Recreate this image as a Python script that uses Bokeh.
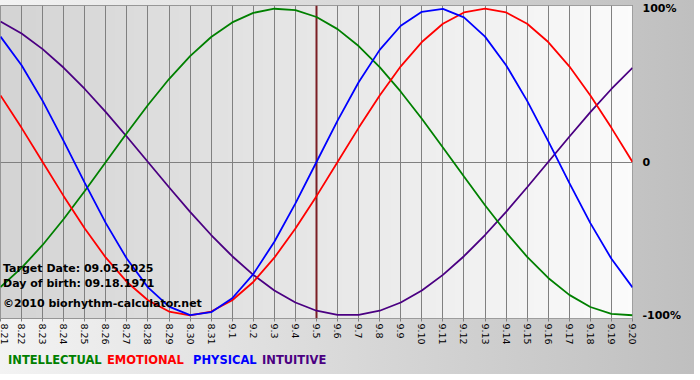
import math
import numpy as np
from bokeh.plotting import figure
from bokeh.layouts import column
from bokeh.models import Range1d, FixedTicker, Label, Span, LinearAxis, Div
from bokeh.embed import file_html
from bokeh.resources import INLINE

# ---- data ----
dates = ["8.21", "8.22", "8.23", "8.24", "8.25", "8.26", "8.27", "8.28", "8.29", "8.30", "8.31",
         "9.1", "9.2", "9.3", "9.4", "9.5", "9.6", "9.7", "9.8", "9.9", "9.10",
         "9.11", "9.12", "9.13", "9.14", "9.15", "9.16", "9.17", "9.18", "9.19", "9.20"]

physical = [81.70, 63.11, 39.84, 13.62, -13.62, -39.84, -63.11, -81.70, -94.23, -99.77, -97.91,
            -88.79, -73.08, -51.96, -26.98, 0.0, 26.98, 51.96, 73.08, 88.79, 97.91,
            99.77, 94.23, 81.70, 63.11, 39.84, 13.62, -13.62, -39.84, -63.11, -81.70]

emotional = [43.39, 22.25, 0.0, -22.25, -43.39, -62.35, -78.18, -90.10, -97.49, -100.0, -97.49,
             -90.10, -78.18, -62.35, -43.39, -22.25, 0.0, 22.25, 43.39, 62.35, 78.18,
             90.10, 97.49, 100.0, 97.49, 90.10, 78.18, 62.35, 43.39, 22.25, 0.0]

intellectual = [-81.46, -69.01, -54.06, -37.17, -18.93, 0.0, 18.93, 37.17, 54.06, 69.01, 81.46,
                90.96, 97.18, 99.89, 98.98, 94.50, 86.60, 75.57, 61.82, 45.82, 28.17,
                9.51, -9.51, -28.17, -45.82, -61.82, -75.57, -86.60, -94.50, -98.98, -99.89]

intuitive = [91.58, 83.72, 73.57, 61.42, 47.59, 32.47, 16.46, 0.0, -16.46, -32.47, -47.59,
             -61.42, -73.57, -83.72, -91.58, -96.94, -99.66, -99.66, -96.94, -91.58, -83.72,
             -73.57, -61.42, -47.59, -32.47, -16.46, 0.0, 16.46, 32.47, 47.59, 61.42]

target_date = "9.5"
right_values = [100, 0, -100]
right_labels = ["100%", "0", "-100%"]
legend_names = ["INTELLECTUAL", "EMOTIONAL", "PHYSICAL", "INTUITIVE"]
info_lines = ["Target Date: 09.05.2025", "Day of birth: 09.18.1971", "\u00a92010 biorhythm-calculator.net"]

# ---- styling ----
C_INT = "#008000"
C_EMO = "#ff0000"
C_PHY = "#0000ff"
C_ITU = "#4b0082"
FONT = "DejaVu Sans"

xs = list(range(len(dates)))
n = len(dates) - 1

p = figure(width=684, height=347, output_backend="svg", toolbar_location=None,
           x_range=Range1d(0, n), y_range=Range1d(-102, 102),
           y_axis_location=None,
           min_border_left=0, min_border_top=5, min_border_right=0, min_border_bottom=26)
p.border_fill_color = None
p.background_fill_color = None
p.outline_line_color = "#808080"

# frame gradient (light gray on the left to almost white on the right)
N = 128
img = np.empty((1, N), dtype=np.uint32)
view = img.view(dtype=np.uint8).reshape((1, N, 4))
g = np.linspace(0xd4, 0xfb, N).astype(np.uint8)
view[0, :, 0] = g
view[0, :, 1] = g
view[0, :, 2] = g
view[0, :, 3] = 255
bg = p.image_rgba(image=[img], x=0, y=-102, dw=n, dh=204)
bg.level = "image"

# grid
p.xgrid.ticker = FixedTicker(ticks=xs)
p.xgrid.grid_line_color = "#808080"
p.xgrid.grid_line_width = 1
p.ygrid.ticker = FixedTicker(ticks=[0])
p.ygrid.grid_line_color = "#808080"

# bottom axis
ax = p.xaxis[0]
ax.ticker = FixedTicker(ticks=xs)
ax.major_label_overrides = {i: d for i, d in enumerate(dates)}
ax.major_label_orientation = -math.pi / 2
ax.major_label_text_font = FONT
ax.major_label_text_font_size = "9.5px"
ax.major_label_text_color = "#000000"
ax.major_label_standoff = 2
ax.axis_line_color = None
ax.major_tick_line_color = "#808080"
ax.major_tick_out = 3
ax.major_tick_in = 0
ax.minor_tick_line_color = None

# right axis with percent labels
rax = LinearAxis(ticker=FixedTicker(ticks=right_values),
                 major_label_overrides={v: t for v, t in zip(right_values, right_labels)})
rax.axis_line_color = None
rax.major_tick_line_color = None
rax.minor_tick_line_color = None
rax.major_label_standoff = 4
rax.major_label_text_font = FONT
rax.major_label_text_font_style = "bold"
rax.major_label_text_font_size = "11px"
rax.major_label_text_color = "#000000"
p.add_layout(rax, "right")

# target date line
p.add_layout(Span(location=dates.index(target_date), dimension="height",
                  line_color="#7b1f24", line_width=2, level="underlay"))

# curves
for series, col in [(intuitive, C_ITU), (intellectual, C_INT), (emotional, C_EMO), (physical, C_PHY)]:
    p.line(xs, series, line_color=col, line_width=1.8)

# info texts
for txt, yv in zip(info_lines, [-69.4, -79.4, -91.9]):
    p.add_layout(Label(x=0.12, y=yv, text=txt, text_font=FONT, text_font_style="bold",
                       text_font_size="11px", text_color="#000000", text_baseline="middle"))

# legend row
cols = [C_INT, C_EMO, C_PHY, C_ITU]
lefts = [3, 102, 188, 257]
spans = "".join(f'<span style="position:absolute; left:{l}px; top:0px; color:{c}">{t}</span>'
                for t, c, l in zip(legend_names, cols, lefts))
legend = Div(text=spans, width=684, height=17,
             styles={"font-family": FONT, "font-weight": "bold", "font-size": "11.5px",
                     "position": "relative", "line-height": "16px", "white-space": "nowrap"})

layout = column(p, legend, spacing=0,
                styles={"background": "linear-gradient(90deg, #f3f3f3 0%, #d6d6d6 55%, #bfbfbf 100%)"})

open("out.html", "w").write(file_html(layout, INLINE))
